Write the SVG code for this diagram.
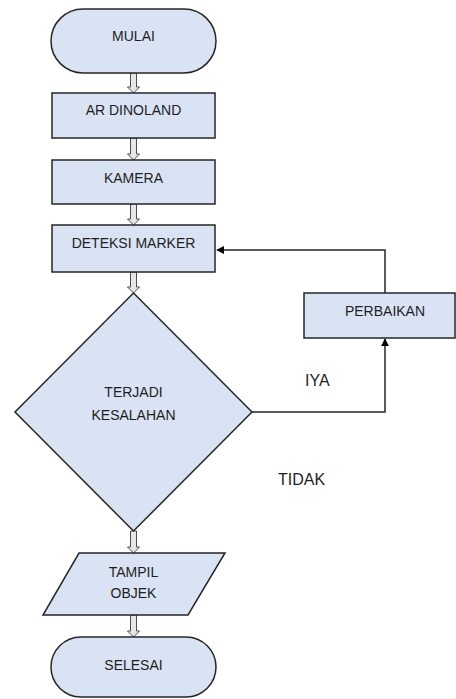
<svg xmlns="http://www.w3.org/2000/svg" width="456" height="699" viewBox="0 0 456 699">
<style>
.shape{fill:#dae3f3;stroke:#262626;stroke-width:1.5}
.blk{fill:#e6e6e6;stroke:#4d4d4d;stroke-width:1}
.lbl{font-family:"Liberation Sans",Arial,sans-serif;font-size:14px;fill:#1e1e1e;text-anchor:middle}
.edge{font-family:"Liberation Sans",Arial,sans-serif;font-size:16px;fill:#1e1e1e}
.conn{fill:none;stroke:#262626;stroke-width:1.5}
</style>
<defs>
<marker id="ah" viewBox="0 0 10 10" refX="9" refY="5" markerWidth="8" markerHeight="8" markerUnits="userSpaceOnUse" orient="auto">
<path d="M0,0 L10,5 L0,10 z" fill="#000"/>
</marker>
</defs>
<rect width="456" height="699" fill="#fff"/>
<g id="connectors">
<path class="blk" d="M130.5,73 H136.5 V87 H139.5 L133.5,93 L127.5,87 H130.5 Z"/>
<path class="blk" d="M130.5,138 H136.5 V154 H139.5 L133.5,160 L127.5,154 H130.5 Z"/>
<path class="blk" d="M130.5,204 H136.5 V219 H139.5 L133.5,225 L127.5,219 H130.5 Z"/>
<path class="blk" d="M130.5,272 H136.5 V287 H139.5 L133.5,293 L127.5,287 H130.5 Z"/>
<path class="blk" d="M130.5,531 H136.5 V547 H139.5 L133.5,553 L127.5,547 H130.5 Z"/>
<path class="blk" d="M130.5,615 H136.5 V631 H139.5 L133.5,637 L127.5,631 H130.5 Z"/>
<path class="conn" d="M252,412 H385 V339" marker-end="url(#ah)"/>
<path class="conn" d="M385,293 V250 H217" marker-end="url(#ah)"/>
<text class="edge" x="305" y="386">IYA</text>
<text class="edge" x="278" y="485">TIDAK</text>
</g>
<g id="mulai">
<rect class="shape" x="51" y="9" width="165" height="64" rx="32" ry="32"/>
<text class="lbl" x="133.5" y="41">MULAI</text>
</g>
<g id="ar-dinoland">
<rect class="shape" x="52" y="93" width="163" height="45"/>
<text class="lbl" x="133.5" y="115">AR DINOLAND</text>
</g>
<g id="kamera">
<rect class="shape" x="52" y="160" width="163" height="44"/>
<text class="lbl" x="133.5" y="183">KAMERA</text>
</g>
<g id="deteksi-marker">
<rect class="shape" x="52" y="225" width="163" height="47"/>
<text class="lbl" x="133.5" y="247.5">DETEKSI MARKER</text>
</g>
<g id="terjadi-kesalahan">
<polygon class="shape" points="133.5,293 252,412 133.5,531 15,412"/>
<text class="lbl" x="133.5" y="397">TERJADI</text>
<text class="lbl" x="133.5" y="420">KESALAHAN</text>
</g>
<g id="perbaikan">
<rect class="shape" x="304" y="293" width="151" height="45"/>
<text class="lbl" x="385" y="316">PERBAIKAN</text>
</g>
<g id="tampil-objek">
<polygon class="shape" points="79,553 225,553 188,615 43,615"/>
<text class="lbl" x="133.5" y="577">TAMPIL</text>
<text class="lbl" x="133.5" y="598">OBJEK</text>
</g>
<g id="selesai">
<rect class="shape" x="51" y="637" width="165" height="60" rx="30" ry="30"/>
<text class="lbl" x="133.5" y="670">SELESAI</text>
</g>
</svg>
